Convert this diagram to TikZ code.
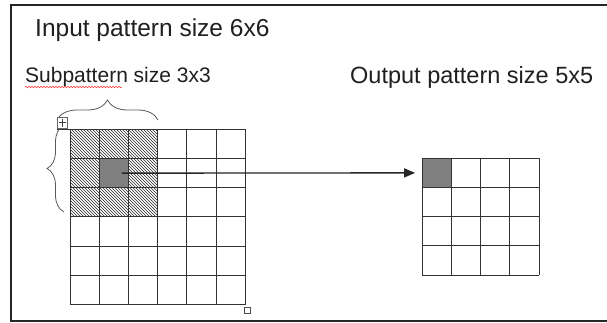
\documentclass[tikz,border=0pt]{standalone}
\usepackage{fontspec}
\setmainfont{Liberation Sans}
\usetikzlibrary{arrows.meta,patterns,decorations.pathreplacing,decorations.pathmorphing}
\tikzset{
	txt/.style={anchor=base west,inner sep=0pt,text=black!88},
	gridline/.style={draw=black!80,line width=0.9pt},
	darkcell/.style={fill=black!50,draw=none,minimum size=\c pt,inner sep=0pt},
	bracket/.style={draw=black!65,line width=0.8pt,decorate,decoration={brace,amplitude=#1}}
}
\begin{document}
\begin{tikzpicture}[>={Triangle[length=11pt,width=9pt]},x=1pt,y=-1pt]
	\def\c{29.2}
	\def\ax{70}\def\ay{129.3} % input grid
	\def\bx{422.3}\def\by{158.3} % output grid
	\useasboundingbox (0,0) rectangle (607,322);
	\draw[line width=1.2pt,black!85] (607,5) -- (11,5) -- (11,321) -- (607,321);
	% labels
	\node[txt,font=\fontsize{24.5}{28}\selectfont] (tin) at (35,36) {Input pattern size 6x6};
	\node[txt,font=\fontsize{21}{24}\selectfont] (tsub) at (25,82) {Subpattern size 3x3};
	\node[txt,font=\fontsize{23.5}{28}\selectfont] (tout) at (350,83) {Output pattern size 5x5};
	\draw[red!80,line width=0.5pt,decorate,decoration={snake,amplitude=0.8pt,segment length=3pt}] (tsub.base west) ++(0,5) -- ++(97,0);
	% subpattern 3x3
	\fill[pattern=north west lines,pattern color=black!85] (\ax,\ay) rectangle (\ax+3*\c,\ay+3*\c);
	\node[darkcell] (src) at (\ax+1.5*\c,\ay+1.5*\c) {};
	\node[darkcell] (dst) at (\bx+0.5*\c,\by+0.5*\c) {};
	\foreach \i in {0,...,6} {
		\draw[gridline] (\ax+\i*\c,\ay) -- (\ax+\i*\c,\ay+6*\c);
		\draw[gridline] (\ax,\ay+\i*\c) -- (\ax+6*\c,\ay+\i*\c);
	}
	\foreach \i in {0,...,4} {
		\draw[gridline] (\bx+\i*\c,\by) -- (\bx+\i*\c,\by+4*\c);
		\draw[gridline] (\bx,\by+\i*\c) -- (\bx+4*\c,\by+\i*\c);
	}
	\draw[gridline] (57,\ay) -- (\ax,\ay);
	% braces
	\draw[bracket=20pt] (57,120) -- (158,120);
	\draw[bracket=17pt] (64,212) -- (64,125);
	% handles
	\draw[black!60,fill=white,line width=0.6pt] (57,117) rectangle (67,128);
	\draw[black!75,line width=0.7pt] (62,118.5) -- (62,126.5) (58.5,122.5) -- (65.5,122.5);
	\draw[black!70,fill=white,line width=0.6pt] (244.5,307) rectangle (250.5,313);
	% arrow
	\draw[->,line width=1.4pt,black!85] ([xshift=8pt]src.center) -- ([xshift=-7pt]dst.west);
\end{tikzpicture}
\end{document}
